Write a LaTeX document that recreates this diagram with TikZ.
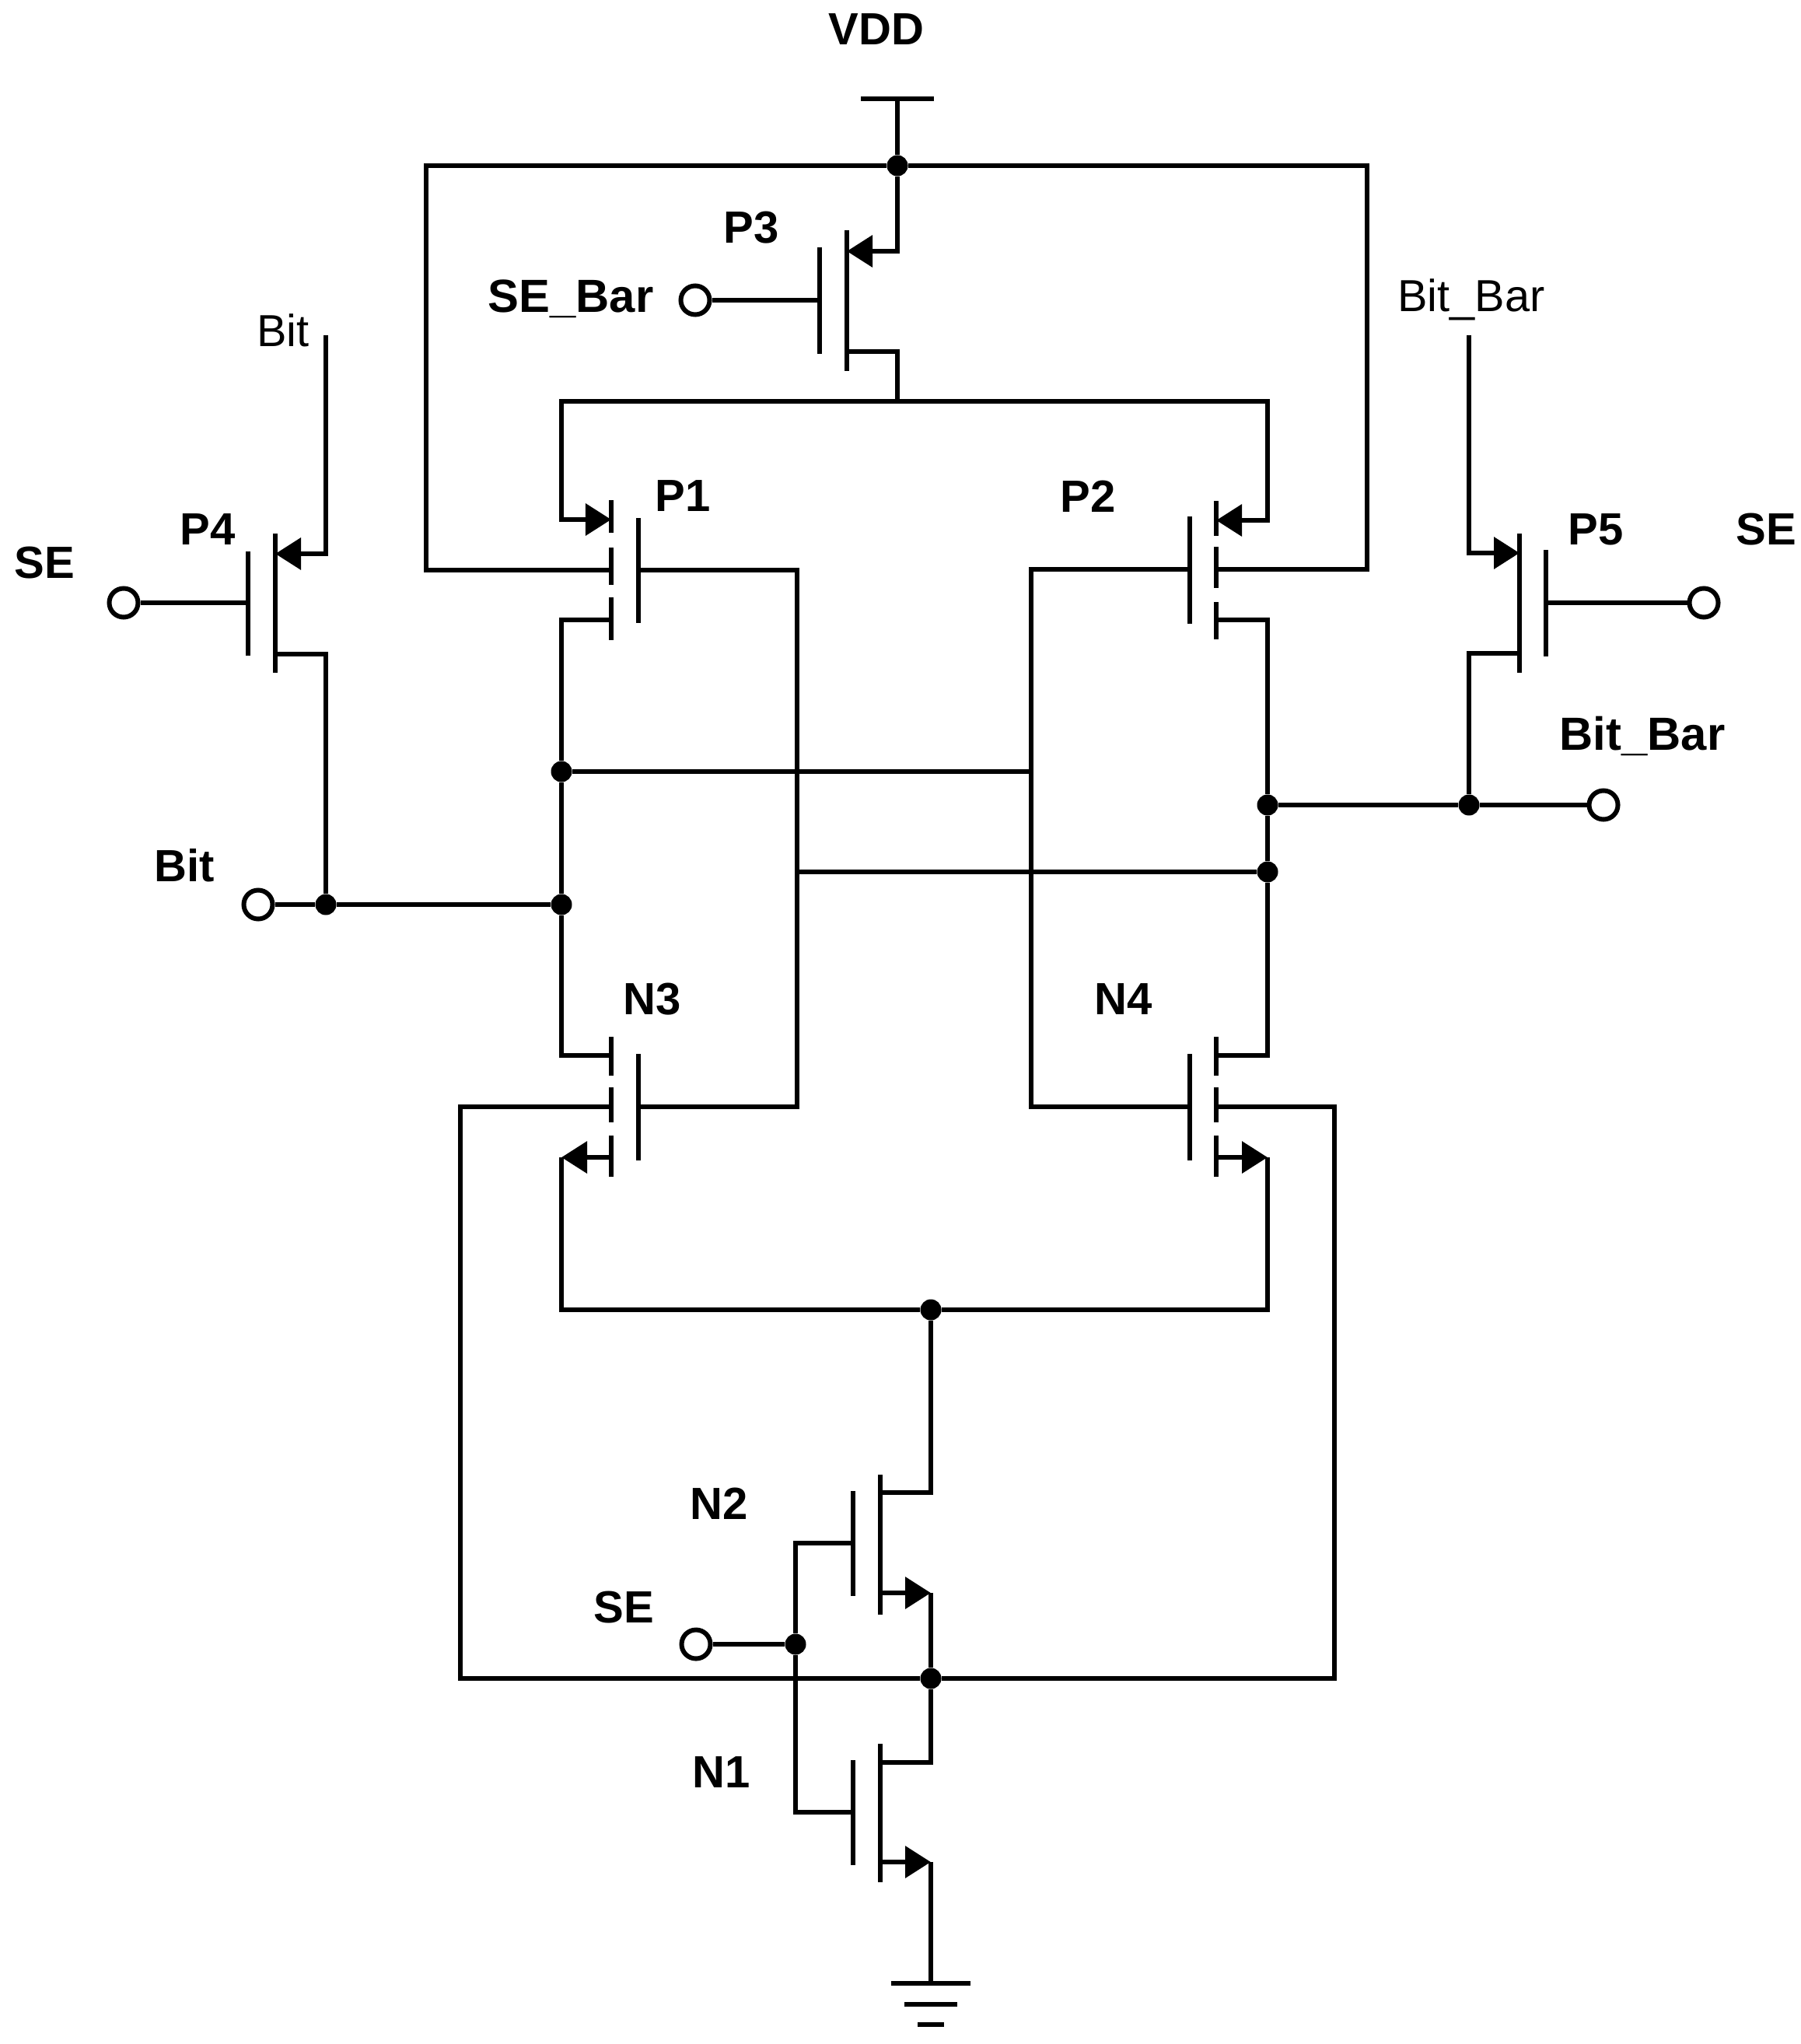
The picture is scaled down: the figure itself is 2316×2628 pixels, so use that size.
\documentclass[tikz,border=0pt]{standalone}
\usepackage{fontspec}
\setmainfont{Liberation Sans}
\usetikzlibrary{arrows.meta,positioning}
\tikzstyle{wire} = [line width=0.066cm,line join=miter]
\tikzstyle{srcarrow} = [wire,-{Triangle[length=0.33cm,width=0.4cm]}]
\tikzstyle{dot} = [circle,fill=black,inner sep=0pt,minimum size=0.27cm]
\tikzstyle{pin} = [circle,draw,fill=white,line width=0.06cm,inner sep=0pt,minimum size=0.37cm]
\tikzstyle{lab} = [font=\fontsize{16.5}{18}\selectfont\bfseries,inner sep=0pt]
\tikzstyle{longlab} = [font=\fontsize{17}{18}\selectfont\bfseries,inner sep=0pt]
\tikzstyle{thinlab} = [font=\fontsize{16.4}{18}\selectfont,inner sep=0pt]

\begin{document}
\begin{tikzpicture}[x=0.01cm,y=-0.01cm]
\useasboundingbox (0,0) rectangle (2316,2628);

% Labels
\node[lab] (vddlab) at (1127,38) {VDD};
\node[lab] (p3lab) at (966,293) {P3};
\node[longlab,anchor=base east] (sebarlab) at (841,402) {SE\_Bar};
\node[lab] (p1lab) at (878,638) {P1};
\node[lab] (p2lab) at (1399,638) {P2};
\node[lab] (p4lab) at (267,681) {P4};
\node[lab] (p5lab) at (2052,681) {P5};
\node[lab] (selablft) at (57,724) {SE};
\node[lab] (selabrgt) at (2271,681) {SE};
\node[lab] (bitlab) at (237,1113) {Bit};
\node[longlab,anchor=base] (bitbarlab) at (2112,964) {Bit\_Bar};
\node[lab] (n3lab) at (839,1285) {N3};
\node[lab] (n4lab) at (1445,1285) {N4};
\node[lab] (n2lab) at (925,1933) {N2};
\node[lab] (n1lab) at (928,2279) {N1};
\node[lab] (selabbot) at (802,2067) {SE};
\node[thinlab] (bittop) at (364,425) {Bit};
\node[thinlab,anchor=base] (bitbartop) at (1892,401) {Bit\_Bar};

% Junctions and input pins
\node[dot] (vdddot) at (1154,213) {};
\node[dot] (q1) at (722,992) {};
\node[dot] (q2) at (722,1163) {};
\node[dot] (bitdot) at (419,1163) {};
\node[dot] (qb1) at (1630,1035) {};
\node[dot] (qb2) at (1630,1121) {};
\node[dot] (bbdot) at (1889,1035) {};
\node[dot] (taildot) at (1197,1684) {};
\node[dot] (sedot) at (1023,2114) {};
\node[dot] (middot) at (1197,2158) {};
\node[pin] (sebarpin) at (894,386) {};
\node[pin] (selft) at (159,775) {};
\node[pin] (seright) at (2191,775) {};
\node[pin] (bitpin) at (332,1163) {};
\node[pin] (bbpin) at (2062,1035) {};
\node[pin] (sebot) at (895,2114) {};

% Terminals: s source, d drain, f gate plate, b channel side of cross wire
\coordinate (p3s) at (1089,323);
\coordinate (p3d) at (1089,452);
\coordinate (p3f) at (1054,386);
\coordinate (p1s) at (786,668);
\coordinate (p1d) at (786,797);
\coordinate (p1b) at (786,733);
\coordinate (p1f) at (821,733);
\coordinate (p2s) at (1564,669);
\coordinate (p2d) at (1564,797);
\coordinate (p2b) at (1564,732);
\coordinate (p2f) at (1530,732);
\coordinate (p4s) at (354,712);
\coordinate (p4d) at (354,841);
\coordinate (p4f) at (319,775);
\coordinate (p5s) at (1954,711);
\coordinate (p5d) at (1954,840);
\coordinate (p5f) at (1988,775);
\coordinate (n3d) at (786,1357);
\coordinate (n3s) at (786,1488);
\coordinate (n3b) at (786,1423);
\coordinate (n3f) at (821,1423);
\coordinate (n4d) at (1564,1357);
\coordinate (n4s) at (1564,1488);
\coordinate (n4b) at (1564,1423);
\coordinate (n4f) at (1530,1423);
\coordinate (n2d) at (1132,1919);
\coordinate (n2s) at (1132,2048);
\coordinate (n2f) at (1097,1984);
\coordinate (n1d) at (1132,2266);
\coordinate (n1s) at (1132,2394);
\coordinate (n1f) at (1097,2330);

% Corners and free ends
\coordinate (vddtop) at (1154,127);
\coordinate (gnd) at (1197,2550);
\coordinate (topl) at (548,213);
\coordinate (topr) at (1758,213);
\coordinate (railmid) at (1154,516);
\coordinate (raill) at (722,516);
\coordinate (railr) at (1630,516);
\coordinate (crossl) at (1025,733);
\coordinate (crosslow) at (1025,1423);
\coordinate (crosstap) at (1025,1121);
\coordinate (crossr) at (1326,732);
\coordinate (crossrlow) at (1326,1423);
\coordinate (crossrtap) at (1326,992);
\coordinate (botl) at (592,2158);
\coordinate (botr) at (1716,2158);
\coordinate (taill) at (722,1684);
\coordinate (tailr) at (1630,1684);
\coordinate (n3c) at (722,1488);
\coordinate (n4c) at (1630,1488);
\coordinate (n2c) at (1197,2048);
\coordinate (n1c) at (1197,2394);
\coordinate (sefork) at (1023,1984);
\coordinate (seforkb) at (1023,2330);
\coordinate (bittopend) at (419,431);
\coordinate (bbtopend) at (1889,431);

% Supply and ground symbols
\draw[wire] (vddtop) ++(-47,0) -- ++(94,0);
\draw[wire] (vddtop) -- (vdddot);
\draw[wire] (gnd) ++(-51,0) -- ++(102,0);
\draw[wire] (gnd) ++(-34,27) -- ++(68,0);
\draw[wire] (gnd) ++(-17,53) -- ++(34,0);

% P3
\draw[wire] (p3s) ++(0,-27) -- ++(0,181);
\draw[wire] (p3f) ++(0,-68) -- ++(0,137);
\draw[srcarrow] (vdddot) |- (p3s);
\draw[wire] (p3d) -| (railmid);
\draw[wire] (sebarpin) -- (p3f);

% P1
\draw[wire] (p1s) ++(0,-25) -- ++(0,42);
\draw[wire] (p1b) ++(0,-29) -- ++(0,48);
\draw[wire] (p1d) ++(0,-29) -- ++(0,55);
\draw[wire] (p1f) ++(0,-67) -- ++(0,135);
\draw[srcarrow] (railmid) -- (raill) |- (p1s);

% P2
\draw[wire] (p2s) ++(0,-25) -- ++(0,45);
\draw[wire] (p2b) ++(0,-29) -- ++(0,53);
\draw[wire] (p2d) ++(0,-23) -- ++(0,48);
\draw[wire] (p2f) ++(0,-68) -- ++(0,138);
\draw[srcarrow] (railmid) -- (railr) |- (p2s);

% P4
\draw[wire] (p4s) ++(0,-26) -- ++(0,179);
\draw[wire] (p4f) ++(0,-66) -- ++(0,134);
\draw[srcarrow] (bittopend) |- (p4s);
\draw[wire] (p4d) -| (bitdot);
\draw[wire] (selft) -- (p4f);

% P5
\draw[wire] (p5s) ++(0,-25) -- ++(0,179);
\draw[wire] (p5f) ++(0,-68) -- ++(0,137);
\draw[srcarrow] (bbtopend) |- (p5s);
\draw[wire] (p5d) -| (bbdot);
\draw[wire] (seright) -- (p5f);

% N3
\draw[wire] (n3d) ++(0,-24) -- ++(0,50);
\draw[wire] (n3b) ++(0,-25) -- ++(0,45);
\draw[wire] (n3s) ++(0,-28) -- ++(0,53);
\draw[wire] (n3f) ++(0,-68) -- ++(0,137);
\draw[srcarrow] (n3s) -- (n3c);

% N4
\draw[wire] (n4d) ++(0,-24) -- ++(0,50);
\draw[wire] (n4b) ++(0,-25) -- ++(0,45);
\draw[wire] (n4s) ++(0,-28) -- ++(0,53);
\draw[wire] (n4f) ++(0,-68) -- ++(0,137);
\draw[srcarrow] (n4s) -- (n4c);

% N2
\draw[wire] (n2s) ++(0,-152) -- ++(0,180);
\draw[wire] (n2f) ++(0,-67) -- ++(0,135);
\draw[srcarrow] (n2s) -- (n2c);
\draw[wire] (n2d) -| (taildot);
\draw[wire] (n2c) -- (middot);

% N1
\draw[wire] (n1s) ++(0,-152) -- ++(0,178);
\draw[wire] (n1f) ++(0,-67) -- ++(0,135);
\draw[srcarrow] (n1s) -- (n1c);
\draw[wire] (n1d) -| (middot);
\draw[wire] (n1c) -- (gnd);

% Cross coupling
\draw[wire] (p1f) -- (crossl) -- (crosslow) -- (n3f);
\draw[wire] (p2f) -- (crossr) -- (crossrlow) -- (n4f);
\draw[wire] (crosstap) -- (qb2);
\draw[wire] (q1) -- (crossrtap);

% Outer loops
\draw[wire] (p1b) -| (topl) -- (vdddot);
\draw[wire] (vdddot) -- (topr) |- (p2b);
\draw[wire] (n3b) -| (botl) -- (middot);
\draw[wire] (middot) -- (botr) |- (n4b);

% Bit and Bit_Bar nodes
\draw[wire] (p1d) -| (q1);
\draw[wire] (q1) -- (q2);
\draw[wire] (q2) |- (n3d);
\draw[wire] (p2d) -| (qb1);
\draw[wire] (qb1) -- (qb2);
\draw[wire] (qb2) |- (n4d);
\draw[wire] (bitpin) -- (bitdot);
\draw[wire] (bitdot) -- (q2);
\draw[wire] (qb1) -- (bbdot);
\draw[wire] (bbdot) -- (bbpin);

% Tail and SE
\draw[wire] (n3c) -- (taill) -- (taildot);
\draw[wire] (taildot) -- (tailr) -- (n4c);
\draw[wire] (n2f) -- (sefork) -- (sedot);
\draw[wire] (sedot) -- (seforkb) -- (n1f);
\draw[wire] (sebot) -- (sedot);
\end{tikzpicture}
\end{document}
